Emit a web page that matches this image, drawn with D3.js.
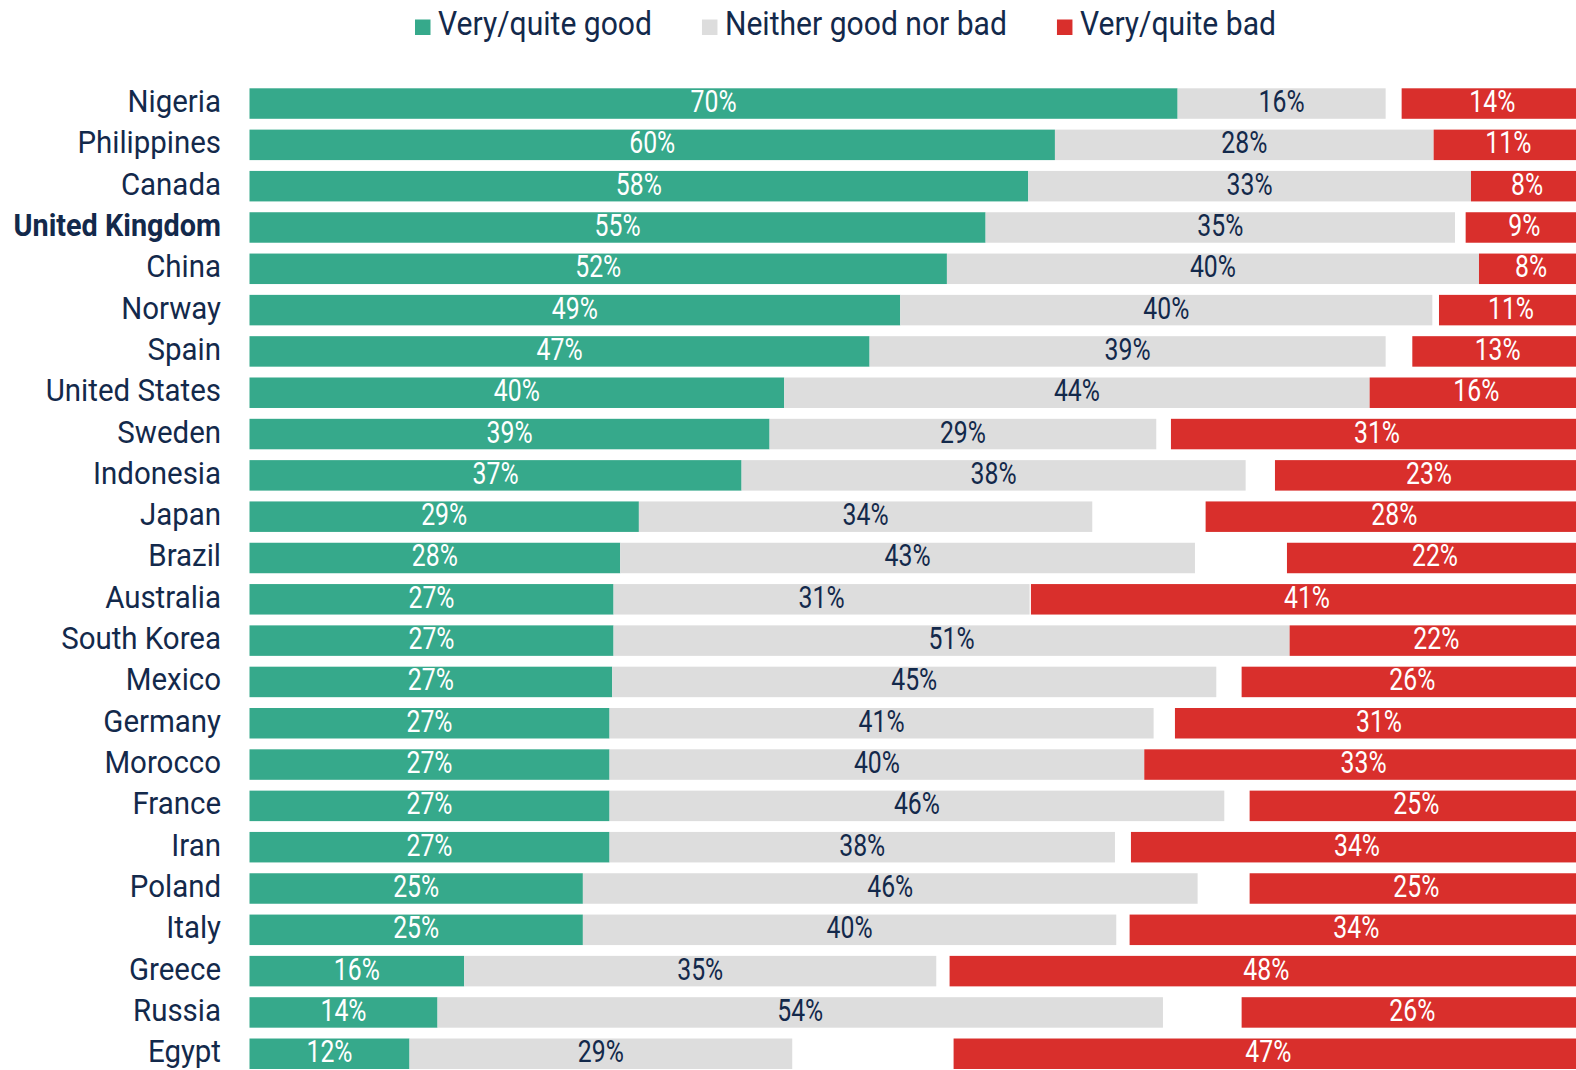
<!DOCTYPE html>
<html lang="en">
<head>
  <meta charset="UTF-8" />
  <title>Good or bad</title>
  <script src="https://d3js.org/d3.v7.min.js"></script>
  <style>
    body, html {
      margin: 0;
      padding: 0;
      background: #fff;
    }
    #chart {
      display: block;
    }
    text {
      font-family: Roboto, "Noto Sans", Arial, sans-serif;
    }
  </style>
</head>
<body>
  <svg id="chart"></svg>
  <script>
    const width = 1576;
    const height = 1070;

    // Data (share of respondents, %)
    const countries = ['Nigeria', 'Philippines', 'Canada', 'United Kingdom', 'China', 'Norway', 'Spain',
      'United States', 'Sweden', 'Indonesia', 'Japan', 'Brazil', 'Australia', 'South Korea', 'Mexico',
      'Germany', 'Morocco', 'France', 'Iran', 'Poland', 'Italy', 'Greece', 'Russia', 'Egypt'];
    const good    = [69.6, 60.4, 58.4, 55.2, 52.3, 48.8, 46.5, 40.1, 39.0, 36.9, 29.2, 27.8, 27.3, 27.3, 27.2, 27.0, 27.0, 27.0, 27.0, 25.0, 25.0, 16.1, 14.1, 12.0];
    const neither = [15.6, 28.4, 33.2, 35.2, 39.9, 39.9, 38.7, 43.9, 29.0, 37.8, 34.0, 43.1, 31.2, 50.7, 45.3, 40.8, 40.1, 46.1, 37.9, 46.1, 40.0, 35.4, 54.4, 28.7];
    const bad     = [13.6, 11.2, 8.4, 8.8, 7.8, 10.8, 12.8, 16.0, 30.9, 23.1, 28.3, 22.2, 41.4, 22.0, 25.6, 30.6, 32.9, 25.0, 33.9, 25.0, 34.0, 47.5, 25.6, 47.2];
    const highlight = 'United Kingdom';

    const seriesNames = ['Very/quite good', 'Neither good nor bad', 'Very/quite bad'];
    const colors = ['#36a98b', '#dddddd', '#d92f2c'];
    const navy = '#13294b';

    const svg = d3.select('#chart')
      .attr('width', width)
      .attr('height', height);

    const x = d3.scaleLinear().domain([0, 100]).range([249.5, 1583]);
    const y = d3.scaleBand().domain(countries).range([88.3, 1069]).paddingInner(0.262).paddingOuter(0);

    // build segments: good from the left, neither after it, bad pinned to the right
    const segs = [];
    countries.forEach((c, i) => {
      segs.push({ c, k: 0, x0: 0, x1: good[i], v: good[i] });
      segs.push({ c, k: 1, x0: good[i], x1: good[i] + neither[i], v: neither[i] });
      segs.push({ c, k: 2, x0: 100 - bad[i], x1: 100, v: bad[i] });
    });

    const bars = svg.append('g');
    bars.selectAll('rect')
      .data(segs)
      .enter().append('rect')
      .attr('x', d => x(d.x0))
      .attr('y', d => y(d.c))
      .attr('width', d => x(d.x1) - x(d.x0))
      .attr('height', y.bandwidth())
      .attr('fill', d => colors[d.k]);

    // value labels
    bars.selectAll('text')
      .data(segs)
      .enter().append('text')
      .attr('transform', d => `translate(${x((d.x0 + d.x1) / 2)},${y(d.c) + y.bandwidth() / 2 + 8.5}) scale(0.8,1.03)`)
      .attr('text-anchor', 'middle')
      .attr('font-size', 31)
      .attr('fill', d => d.k === 1 ? navy : '#fff')
      .text(d => Math.round(d.v) + '%');

    // country labels
    svg.append('g').selectAll('text')
      .data(countries)
      .enter().append('text')
      .attr('transform', d => `translate(221,${y(d) + y.bandwidth() / 2 + 8.5}) scale(${d === highlight ? 0.93 : 0.95},1.03)`)
      .attr('text-anchor', 'end')
      .attr('font-size', 31)
      .attr('font-weight', d => d === highlight ? 700 : 400)
      .attr('fill', navy)
      .text(d => d);

    // legend
    const legend = svg.append('g');
    let lx = 415;
    seriesNames.forEach((name, i) => {
      legend.append('rect')
        .attr('x', lx)
        .attr('y', 19.5)
        .attr('width', 15.5)
        .attr('height', 15.5)
        .attr('fill', colors[i]);
      const t = legend.append('text')
        .attr('transform', `translate(${lx + 23},35) scale(0.94,1.04)`)
        .attr('font-size', 32)
        .attr('fill', navy)
        .text(name);
      lx += 23 + t.node().getComputedTextLength() * 0.94 + 50;
    });
  </script>
</body>
</html>
